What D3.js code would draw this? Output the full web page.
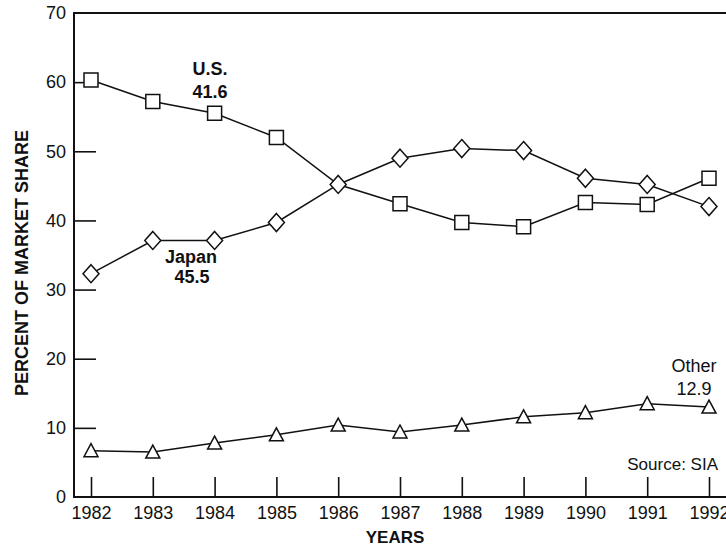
<!DOCTYPE html>
<html>
<head>
<meta charset="utf-8">
<script src="https://cdn.jsdelivr.net/npm/d3@7"></script>
<style>
	body { margin: 0; background: #fff; }
	svg { display: block; }
	text { font-family: "Liberation Sans", Arial, sans-serif; fill: #111; }
</style>
</head>
<body>
<svg id="chart" width="726" height="548"></svg>
<script>
// data
var years	= [1982, 1983, 1984, 1985, 1986, 1987, 1988, 1989, 1990, 1991, 1992];
var usShare	= [60.3, 57.2, 55.5, 52.0, 45.2, 42.4, 39.7, 39.1, 42.6, 42.3, 46.1];
var japanShare	= [32.3, 37.1, 37.1, 39.7, 45.2, 49.0, 50.4, 50.1, 46.1, 45.2, 42.0];
var otherShare	= [6.7, 6.5, 7.8, 9.0, 10.4, 9.4, 10.4, 11.6, 12.2, 13.5, 13.0];
var yTicks	= [0, 10, 20, 30, 40, 50, 60, 70];

var svg	= d3.select("#chart"),
	padL	= 74, padT = 13, edgeR = 726, baseY = 497;

var x = d3.scaleLinear().domain([1982, 1992]).range([91, 709]);
var y = d3.scaleLinear().domain([0, 70]).range([baseY, padT]);

// custom marker shapes, sized in px rather than area
var square = { draw: function(c, s) { c.rect(-7, -7, 14, 14); } };
var diamond = { draw: function(c, s) {
	c.moveTo(0, -9); c.lineTo(8, 0); c.lineTo(0, 9); c.lineTo(-8, 0); c.closePath();
} };
var triangle = { draw: function(c, s) {
	c.moveTo(0, -7); c.lineTo(7, 6); c.lineTo(-7, 6); c.closePath();
} };

// axes
var yAxis = svg.append("g").attr("transform", "translate(" + padL + ",0)")
	.call(d3.axisLeft(y).tickValues(yTicks).tickSize(-22).tickPadding(8));
yAxis.select(".domain").remove();
yAxis.selectAll(".tick line").attr("stroke", "#111").attr("stroke-width", 1.6)
	.filter(function(d) { return d == 0 || d == 70; }).remove();
yAxis.selectAll(".tick text").style("font-size", "18px").attr("fill", "#111");

var xAxis = svg.append("g").attr("transform", "translate(0," + baseY + ")")
	.call(d3.axisBottom(x).tickValues(years).tickFormat(d3.format("d")).tickSize(-20).tickPadding(9));
xAxis.select(".domain").remove();
xAxis.selectAll(".tick line").attr("stroke", "#111").attr("stroke-width", 1.6);
xAxis.selectAll(".tick text").style("font-size", "18px").attr("fill", "#111");

// frame
svg.append("path")
	.attr("d", "M" + edgeR + "," + padT + "H" + padL + "V" + baseY + "H" + edgeR)
	.attr("fill", "none").attr("stroke", "#111").attr("stroke-width", 2);

// series
var series = [
	{ name: "us", values: usShare, shape: square },
	{ name: "japan", values: japanShare, shape: diamond },
	{ name: "other", values: otherShare, shape: triangle }
];
var line = d3.line().x(function(d) { return x(d[0]); }).y(function(d) { return y(d[1]); });

series.forEach(function(s) {
	var pts = years.map(function(yr, i) { return [yr, s.values[i]]; });
	svg.append("path").datum(pts).attr("d", line)
		.attr("fill", "none").attr("stroke", "#111").attr("stroke-width", 1.5);
});
series.forEach(function(s) {
	var pts = years.map(function(yr, i) { return [yr, s.values[i], i]; });
	// where U.S. and Japan meet only the diamond shows
	if (s.name == "us")
		pts = pts.filter(function(d) { return Math.abs(d[1] - japanShare[d[2]]) > 1; });
	svg.selectAll(null).data(pts).enter().append("path")
		.attr("transform", function(d) { return "translate(" + x(d[0]) + "," + y(d[1]) + ")"; })
		.attr("d", d3.symbol().type(s.shape))
		.attr("fill", "#fff").attr("stroke", "#111").attr("stroke-width", 1.5);
});

// labels
function label(tx, ty, str, size, weight, anchor) {
	svg.append("text").attr("x", tx).attr("y", ty).text(str)
		.style("font-size", size + "px").style("font-weight", weight)
		.attr("text-anchor", anchor || "middle");
}
label(210, 75, "U.S.", 18, "bold");
label(210, 98, "41.6", 18, "bold");
label(191, 263, "Japan", 18, "bold");
label(192, 283, "45.5", 18, "bold");
label(694, 372, "Other", 18, "normal");
label(694, 395, "12.9", 18, "normal");
label(718, 470, "Source:  SIA", 17, "normal", "end");
label(395, 543, "YEARS", 17, "bold");

svg.append("text").attr("transform", "translate(28,263) rotate(-90)")
	.attr("text-anchor", "middle").text("PERCENT OF MARKET SHARE")
	.style("font-size", "18px").style("font-weight", "bold");
</script>
</body>
</html>
